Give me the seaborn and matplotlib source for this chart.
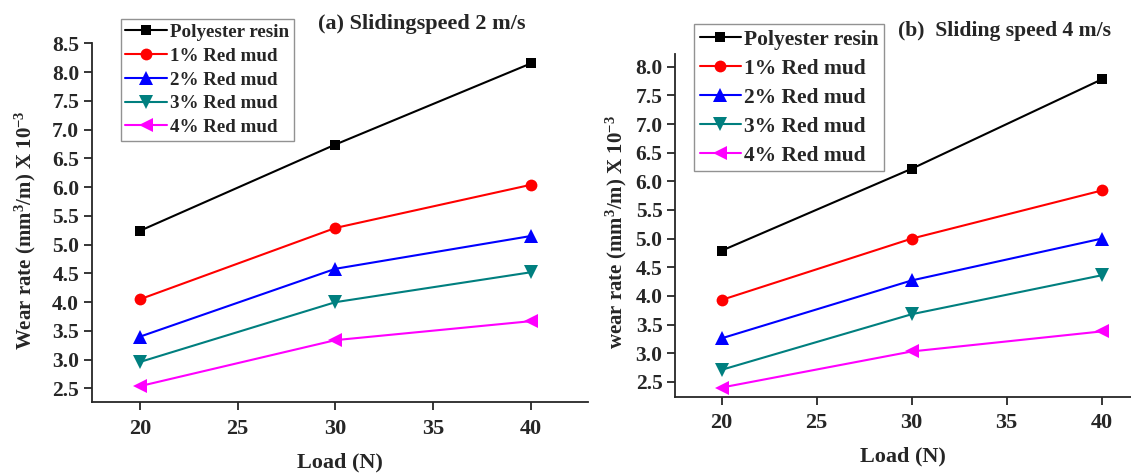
import pandas as pd
import matplotlib
matplotlib.use("Agg")
import matplotlib.pyplot as plt
import seaborn as sns

# Data
loads = [20, 30, 40]
series_names = ["Polyester resin", "1% Red mud", "2% Red mud", "3% Red mud", "4% Red mud"]

speed2_polyester = [5.24, 6.74, 8.15]
speed2_rm1 = [4.05, 5.29, 6.04]
speed2_rm2 = [3.40, 4.58, 5.15]
speed2_rm3 = [2.96, 4.00, 4.52]
speed2_rm4 = [2.54, 3.34, 3.67]

speed4_polyester = [4.79, 6.22, 7.78]
speed4_rm1 = [3.93, 5.00, 5.84]
speed4_rm2 = [3.26, 4.27, 5.00]
speed4_rm3 = [2.71, 3.68, 4.36]
speed4_rm4 = [2.40, 3.03, 3.38]

yticks_a = [2.5, 3.0, 3.5, 4.0, 4.5, 5.0, 5.5, 6.0, 6.5, 7.0, 7.5, 8.0, 8.5]
yticks_b = [2.5, 3.0, 3.5, 4.0, 4.5, 5.0, 5.5, 6.0, 6.5, 7.0, 7.5, 8.0]
xticks = [20, 25, 30, 35, 40]

colors = ["#000000", "#ff0000", "#0000ff", "#007f7f", "#ff00ff"]
markers = ["s", "o", "^", "v", "<"]
marker_sizes = {"s": 7, "o": 8.5, "^": 10, "v": 10, "<": 10}

SERIF = ["Liberation Serif", "DejaVu Serif"]


def to_long(values):
    rows = []
    for name, vals in zip(series_names, values):
        for x, y in zip(loads, vals):
            rows.append({"Load": x, "Wear": y, "Series": name})
    return pd.DataFrame(rows)


df_a = to_long([speed2_polyester, speed2_rm1, speed2_rm2, speed2_rm3, speed2_rm4])
df_b = to_long([speed4_polyester, speed4_rm1, speed4_rm2, speed4_rm3, speed4_rm4])

sns.set_style("ticks")
plt.rcParams["font.family"] = SERIF
plt.rcParams["font.weight"] = "bold"
plt.rcParams["axes.labelweight"] = "bold"
plt.rcParams["mathtext.fontset"] = "custom"
plt.rcParams["mathtext.rm"] = "Liberation Serif:bold"
plt.rcParams["mathtext.bf"] = "Liberation Serif:bold"
plt.rcParams["mathtext.default"] = "bf"

fig = plt.figure(figsize=(11.31, 4.73), dpi=100)
ax_a = fig.add_axes([0.0811, 0.1495, 0.4384, 0.759])
ax_b = fig.add_axes([0.5968, 0.1613, 0.4032, 0.7254])

palette = dict(zip(series_names, colors))
marker_map = dict(zip(series_names, markers))


def draw(ax, df, yticks, xlim, ylim, ylabel, ylab_x, xlab_y, title, title_xy,
         title_size, legend_box, legend_size, legend_spacing, handle_len):
    sns.lineplot(data=df, x="Load", y="Wear", hue="Series", style="Series",
                 hue_order=series_names, style_order=series_names,
                 palette=palette, markers=marker_map, dashes=False,
                 linewidth=1.5, markersize=8, markeredgewidth=0, ax=ax)
    for line in ax.lines:
        m = line.get_marker()
        if m in marker_sizes:
            line.set_markersize(marker_sizes[m])
    ax.set_xlim(*xlim)
    ax.set_ylim(*ylim)
    ax.set_xticks(xticks)
    ax.set_yticks(yticks)
    ax.set_xticklabels([str(t) for t in xticks], family=SERIF, weight="bold")
    ax.set_yticklabels([f"{t:.1f}" for t in yticks], family=SERIF, weight="bold")
    ax.tick_params(direction="out", length=6, width=1.3)
    ax.tick_params(axis="x", labelsize=16, pad=6)
    ax.tick_params(axis="y", labelsize=15.5, pad=3)
    for side in ["left", "bottom"]:
        ax.spines[side].set_linewidth(1.3)
    sns.despine(ax=ax)
    ax.set_xlabel("Load (N)", fontsize=16, fontweight="bold", family=SERIF)
    ax.xaxis.set_label_coords(0.5, xlab_y)
    ax.xaxis.label.set_verticalalignment("top")
    ax.set_ylabel(ylabel, fontsize=15, fontweight="bold", family=SERIF)
    ax.yaxis.set_label_coords(ylab_x, 0.48)
    fig.text(title_xy[0], title_xy[1], title, fontsize=title_size,
             fontweight="bold", family=SERIF, ha="center", va="center")
    leg = ax.legend(loc="upper left", bbox_to_anchor=legend_box,
                    bbox_transform=fig.transFigure, frameon=True,
                    fancybox=False,
                    prop={"family": SERIF, "weight": "bold", "size": legend_size},
                    handlelength=handle_len, handletextpad=0.15, borderpad=0.25,
                    labelspacing=legend_spacing, borderaxespad=0)
    leg.get_frame().set_edgecolor("#777777")
    leg.get_frame().set_linewidth(1.0)
    for h, m in zip(leg.legend_handles, markers):
        h.set_markersize(marker_sizes[m])
        h.set_linewidth(1.5)


draw(ax_a, df_a, yticks_a, (17.54, 42.9), (2.26, 8.5),
     r"Wear rate (mm$^{3}$/m) X 10$^{-3}$", -0.108, -0.14,
     "(a) Slidingspeed 2 m/s", (0.373, 0.950), 16,
     (0.1067, 0.960), 13.7, 0.34, 2.2)
draw(ax_b, df_b, yticks_b, (17.54, 41.54), (2.24, 8.23),
     r"wear rate (mm$^{3}$/m) X 10$^{-3}$", -0.10, -0.145,
     "(b)  Sliding speed 4 m/s", (0.888, 0.935), 15.6,
     (0.6139, 0.949), 15.5, 0.42, 1.9)

fig.savefig("out.png", dpi=100, facecolor="white")
